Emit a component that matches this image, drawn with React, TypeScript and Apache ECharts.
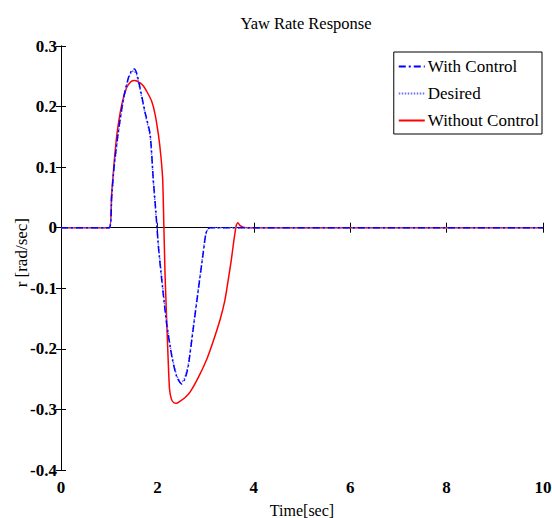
import React, { useEffect, useRef } from "react";
import * as echarts from "echarts";

const withControlT = [0, 1.0, 1.05, 1.1, 1.19, 1.3, 1.4, 1.47, 1.52, 1.57, 1.64, 1.74, 1.85, 1.915, 1.97, 2.02, 2.09, 2.19, 2.3, 2.4, 2.5, 2.57, 2.64, 2.74, 2.85, 2.95, 3.0, 3.04, 3.09, 10];
const withControlR = [0, 0, 0.05, 0.1, 0.159, 0.215, 0.248, 0.26, 0.262, 0.255, 0.231, 0.192, 0.154, 0.079, 0.025, -0.031, -0.086, -0.158, -0.213, -0.246, -0.258, -0.25, -0.229, -0.169, -0.102, -0.042, -0.012, -0.002, 0, 0];

const desiredT = [0, 1.0, 1.05, 1.1, 1.2, 1.3, 1.4, 1.46, 1.51, 1.57, 1.64, 1.74, 1.85, 1.91, 1.97, 2.03, 2.1, 2.2, 2.3, 2.4, 2.49, 2.56, 2.64, 2.74, 2.85, 2.95, 3.0, 3.05, 3.1, 10];
const desiredR = [0, 0, 0.048, 0.098, 0.162, 0.213, 0.246, 0.257, 0.259, 0.252, 0.228, 0.19, 0.15, 0.082, 0.02, -0.035, -0.09, -0.16, -0.211, -0.244, -0.256, -0.249, -0.226, -0.166, -0.1, -0.04, -0.012, -0.002, 0, 0];

const withoutControlT = [0, 1.0, 1.05, 1.1, 1.16, 1.26, 1.36, 1.45, 1.52, 1.6, 1.71, 1.8, 1.88, 1.95, 2.02, 2.07, 2.11, 2.135, 2.16, 2.21, 2.25, 2.29, 2.34, 2.4, 2.48, 2.58, 2.68, 2.85, 3.02, 3.16, 3.3, 3.4, 3.47, 3.53, 3.57, 3.61, 3.64, 3.67, 3.71, 3.78, 3.9, 10];
const withoutControlR = [0, 0, 0.055, 0.105, 0.154, 0.203, 0.231, 0.241, 0.243, 0.241, 0.234, 0.222, 0.209, 0.188, 0.154, 0.12, 0.079, 0.0, -0.08, -0.19, -0.265, -0.283, -0.289, -0.29, -0.286, -0.28, -0.271, -0.247, -0.218, -0.187, -0.152, -0.12, -0.086, -0.055, -0.031, -0.008, 0.005, 0.008, 0.004, 0.001, 0, 0];

const xTicks = [0, 2, 4, 6, 8, 10];
const yTicks = [-0.4, -0.3, -0.2, -0.1, 0, 0.1, 0.2, 0.3];

const FONT = "Times New Roman, Liberation Serif, serif";

const zip = (t: number[], r: number[]) => t.map((v, i) => [v, r[i]]);

export default function App() {
  const ref = useRef<HTMLDivElement>(null);
  useEffect(() => {
    if (!ref.current) return;
    const chart = echarts.init(ref.current, undefined, { renderer: "svg" });
    const fmtY = (v: number) => {
      const n = parseFloat(v.toFixed(1));
      return n === 0 ? "0" : String(n);
    };
    const axisLine = { show: true, lineStyle: { color: "#000", width: 1 } };
    const tick = { show: true, inside: true, length: 5, lineStyle: { color: "#000" } };
    chart.setOption({
      animation: false,
      backgroundColor: "#fff",
      textStyle: { fontFamily: FONT, color: "#000" },
      graphic: [
        {
          type: "text",
          x: 306,
          y: 15,
          style: { text: "Yaw Rate Response", textAlign: "center", font: `16.5px "Liberation Serif"`, fill: "#000" },
        },
        {
          type: "text",
          left: 13,
          top: 218,
          rotation: Math.PI / 2,
          style: {
            text: "r [rad/sec]",
            font: `17px "Liberation Serif"`,
            fill: "#000",
          },
        },
      ],
      grid: { left: 61, right: 9, top: 46, bottom: 48, outerBoundsMode: "none", containLabel: false },
      legend: {
        right: 10,
        top: 52,
        orient: "vertical",
        backgroundColor: "#fff",
        borderColor: "#000",
        borderWidth: 1,
        borderRadius: 0,
        padding: [6, 3, 5, 4],
        itemGap: 10,
        itemWidth: 26,
        itemHeight: 14,
        itemStyle: { opacity: 0 },
        textStyle: { fontFamily: FONT, fontSize: 17, color: "#000", padding: [0, 0, 0, -2] },
        data: ["With Control", "Desired", "Without Control"],
      },
      xAxis: [
        {
          type: "value",
          min: 0,
          max: 10,
          interval: 2,
          name: "Time[sec]",
          nameLocation: "middle",
          nameGap: 32,
          nameMoveOverlap: false,
          nameTextStyle: { fontFamily: FONT, fontSize: 16, color: "#000" },
          axisLine,
          axisTick: tick,
          axisLabel: {
            fontFamily: FONT,
            fontSize: 17,
            fontWeight: "bold",
            color: "#000",
            margin: 9,
            formatter: (v: number) => (xTicks.includes(v) ? String(v) : ""),
          },
          splitLine: { show: false },
        },
        {
          type: "value",
          position: "top",
          min: 0,
          max: 10,
          interval: 2,
          axisLine,
          axisTick: tick,
          axisLabel: { show: false },
          splitLine: { show: false },
        },
      ],
      yAxis: [
        {
          type: "value",
          min: yTicks[0],
          max: yTicks[yTicks.length - 1],
          interval: 0.1,
          axisLine,
          axisTick: tick,
          axisLabel: {
            fontFamily: FONT,
            fontSize: 17,
            fontWeight: "bold",
            color: "#000",
            margin: 4,
            formatter: fmtY,
          },
          splitLine: { show: false },
        },
        {
          type: "value",
          position: "right",
          min: yTicks[0],
          max: yTicks[yTicks.length - 1],
          interval: 0.1,
          axisLine,
          axisTick: tick,
          axisLabel: { show: false },
          splitLine: { show: false },
        },
      ],
      series: [
        {
          name: "Without Control",
          type: "line",
          data: zip(withoutControlT, withoutControlR),
          showSymbol: false,
          symbol: "none",
          smooth: 0.2,
          lineStyle: { color: "#ff0000", width: 1.5 },
          itemStyle: { color: "#ff0000" },
          z: 2,
        },
        {
          name: "Desired",
          type: "line",
          data: zip(desiredT, desiredR),
          showSymbol: false,
          symbol: "none",
          smooth: 0.2,
          lineStyle: { color: "#6a6aff", width: 1.5, type: [1.5, 1.5] },
          itemStyle: { color: "#6a6aff" },
          z: 3,
        },
        {
          name: "With Control",
          type: "line",
          data: zip(withControlT, withControlR),
          showSymbol: false,
          symbol: "none",
          smooth: 0.2,
          lineStyle: { color: "#0000ff", width: 1.5, type: [7, 3, 2, 3] },
          itemStyle: { color: "#0000ff" },
          z: 4,
        },
      ],
    });
    return () => chart.dispose();
  }, []);
  return <div ref={ref} style={{ position: "fixed", left: 0, top: 0, width: 552, height: 518 }} />;
}
